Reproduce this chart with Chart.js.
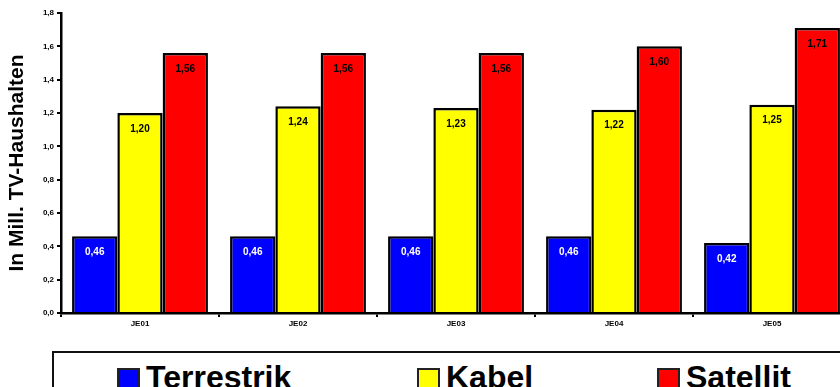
<!DOCTYPE html>
<html>
<head>
<meta charset="utf-8">
<script src="https://cdn.jsdelivr.net/npm/chart.js@4/dist/chart.umd.min.js"></script>
<style>
  html, body { margin: 0; padding: 0; background: #fff; overflow: hidden; width: 840px; height: 387px; }
  #wrap { position: absolute; left: 0; top: 0; width: 860px; height: 340px; }
  #legende {
    position: absolute; left: 52px; top: 351px; width: 820px; height: 50px;
    border: 2px solid #111; box-sizing: border-box;
    font-family: "Liberation Sans", Arial, sans-serif; font-weight: bold; font-size: 32px;
  }
  .item { position: absolute; top: 8px; display: flex; align-items: center; line-height: 32px; }
  .box { width: 19px; height: 19px; border: 2px solid #222; margin-right: 6px; margin-top: 5px; }
</style>
</head>
<body>
<div id="wrap"><canvas id="grafico"></canvas></div>
<div id="legende">
  <div class="item" style="left:63px"><span class="box" style="background:#0000ff"></span>Terrestrik</div>
  <div class="item" style="left:363px"><span class="box" style="background:#ffff00"></span>Kabel</div>
  <div class="item" style="left:603px"><span class="box" style="background:#ff0000"></span>Satellit</div>
</div>
<script>
const jahre = ['JE01', 'JE02', 'JE03', 'JE04', 'JE05'];
const terrestrik = [0.46, 0.46, 0.46, 0.46, 0.42];
const kabel = [1.20, 1.24, 1.23, 1.22, 1.25];
const satellit = [1.56, 1.56, 1.56, 1.60, 1.71];

const fmt = v => v.toFixed(2).replace('.', ',');

const werteLabels = {
  id: 'werteLabels',
  afterDatasetsDraw(chart) {
    const ctx = chart.ctx;
    ctx.save();
    ctx.font = 'bold 10px "Liberation Sans", Arial, sans-serif';
    ctx.textAlign = 'center';
    ctx.textBaseline = 'middle';
    chart.data.datasets.forEach((ds, i) => {
      chart.getDatasetMeta(i).data.forEach((bar, j) => {
        ctx.fillStyle = i === 0 ? '#ffffff' : '#000000';
        ctx.fillText(fmt(ds.data[j]), bar.x, bar.y + 16);
      });
    });
    ctx.restore();
  }
};

const balken = (label, data, farbe) => ({
  label, data,
  backgroundColor: farbe,
  borderColor: '#000000',
  borderWidth: 2.5,
  borderSkipped: 'bottom',
  categoryPercentage: 0.86,
  barPercentage: 1.0
});

new Chart(document.getElementById('grafico').getContext('2d'), {
  type: 'bar',
  data: {
    labels: jahre,
    datasets: [
      balken('Terrestrik', terrestrik, '#0000ff'),
      balken('Kabel', kabel, '#ffff00'),
      balken('Satellit', satellit, '#ff0000')
    ]
  },
  options: {
    responsive: true,
    maintainAspectRatio: false,
    animation: false,
    layout: { padding: { top: 13, right: 9, left: 0, bottom: 0 } },
    plugins: { legend: { display: false }, tooltip: { enabled: false } },
    scales: {
      x: {
        grid: { drawOnChartArea: false, offset: true, color: '#000', lineWidth: 2, tickLength: 4 },
        border: { color: '#000', width: 2.5 },
        ticks: { color: '#000', font: { family: '"Liberation Sans", Arial, sans-serif', size: 8, weight: 'bold' }, padding: 2 },
        afterFit: s => { s.height = 27; }
      },
      y: {
        min: 0, max: 1.8,
        grid: { drawOnChartArea: false, color: '#000', lineWidth: 2, tickLength: 4 },
        border: { color: '#000', width: 2.5 },
        ticks: {
          stepSize: 0.2,
          color: '#000',
          padding: 3,
          font: { family: '"Liberation Sans", Arial, sans-serif', size: 8, weight: 'bold' },
          callback: v => v.toFixed(1).replace('.', ',')
        },
        title: {
          display: true,
          text: 'In Mill. TV-Haushalten',
          color: '#000',
          font: { family: '"Liberation Sans", Arial, sans-serif', size: 21, weight: 'bold' },
          padding: { top: 5, bottom: 0 }
        },
        afterFit: s => { s.width = 61; }
      }
    }
  },
  plugins: [werteLabels]
});
</script>
</body>
</html>
